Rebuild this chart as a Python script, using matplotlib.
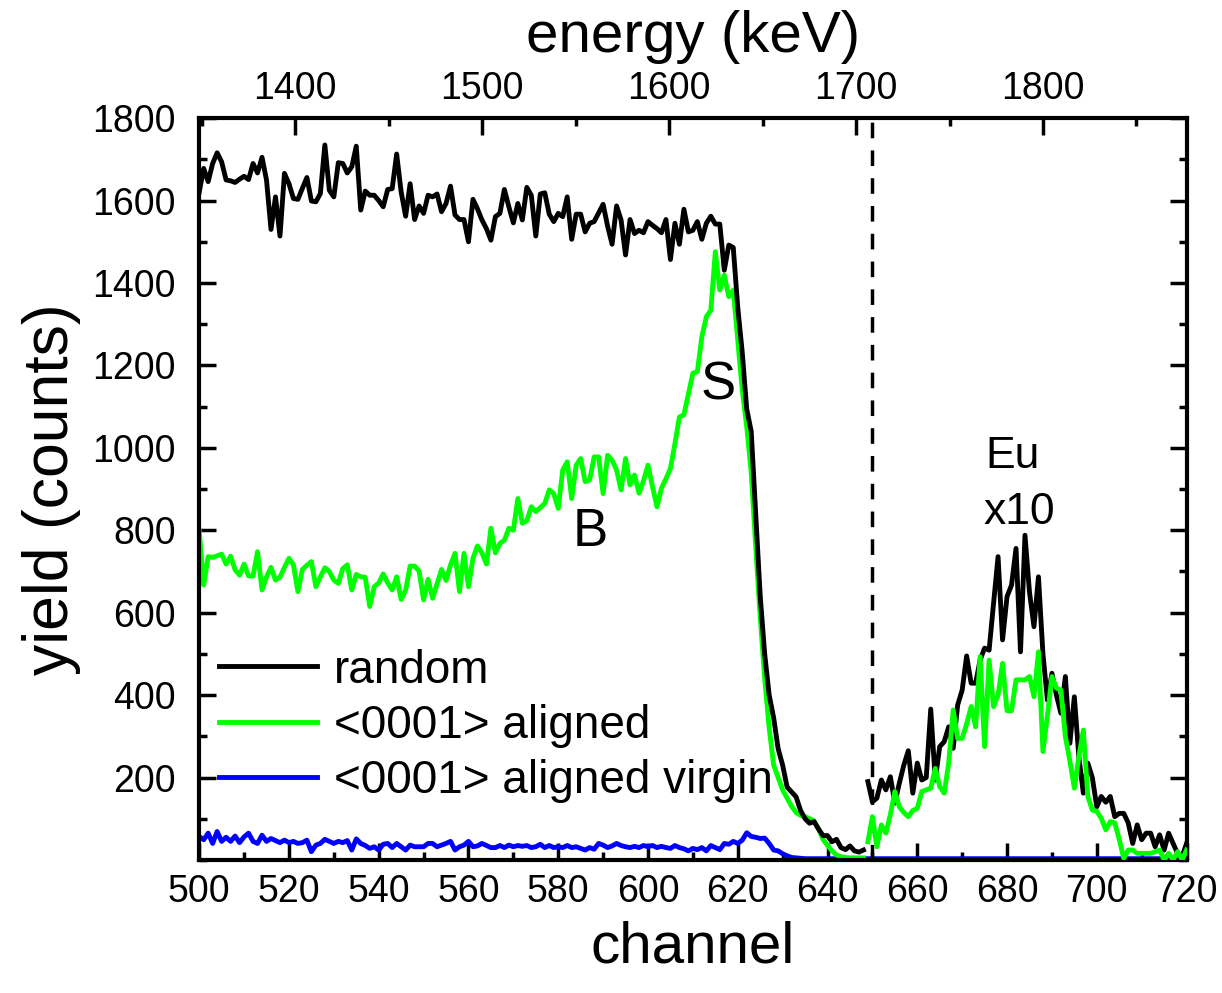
import numpy as np
from matplotlib import pyplot as plt
from matplotlib.ticker import MultipleLocator, FixedLocator

plt.rcParams["font.family"] = ["Liberation Sans", "DejaVu Sans"]

# main part of the spectrum, channels 500..648
ch_main = np.arange(500, 649)
random_main = [
    1620, 1678, 1646, 1690, 1716, 1694, 1650, 1648, 1644, 1652,
    1659, 1651, 1690, 1667, 1705, 1650, 1530, 1609, 1514, 1666,
    1641, 1605, 1603, 1630, 1656, 1599, 1597, 1617, 1735, 1625,
    1609, 1692, 1690, 1667, 1682, 1732, 1577, 1623, 1613, 1613,
    1600, 1585, 1627, 1629, 1713, 1621, 1562, 1641, 1554, 1587,
    1569, 1613, 1609, 1616, 1573, 1593, 1635, 1565, 1554, 1554,
    1500, 1603, 1580, 1553, 1532, 1504, 1561, 1569, 1627, 1585,
    1546, 1593, 1553, 1632, 1613, 1514, 1616, 1619, 1567, 1549,
    1569, 1561, 1609, 1506, 1567, 1567, 1524, 1545, 1549, 1570,
    1591, 1538, 1494, 1587, 1553, 1468, 1554, 1520, 1528, 1522,
    1549, 1540, 1532, 1522, 1554, 1457, 1545, 1494, 1579, 1524,
    1528, 1549, 1506, 1545, 1562, 1543, 1543, 1431, 1492, 1486,
    1341, 1232, 1094, 1040, 838, 641, 500, 400, 345, 270,
    230, 177, 165, 153, 120, 100, 89, 93, 75, 59,
    59, 44, 50, 30, 25, 34, 22, 19, 24,
]
aligned_main = [
    800, 667, 736, 734, 738, 742, 718, 737, 704, 691,
    718, 689, 689, 748, 655, 687, 710, 679, 686, 710,
    732, 716, 651, 705, 715, 724, 663, 687, 709, 700,
    679, 671, 707, 716, 655, 693, 687, 686, 615, 663,
    672, 694, 672, 655, 687, 632, 655, 713, 713, 701,
    631, 681, 635, 670, 705, 678, 716, 744, 651, 744,
    663, 732, 762, 745, 718, 805, 745, 768, 776, 805,
    800, 877, 817, 823, 857, 845, 855, 865, 898, 889,
    853, 946, 966, 877, 958, 974, 918, 922, 978, 978,
    889, 982, 970, 946, 898, 974, 910, 934, 890, 920,
    958, 906, 857, 902, 925, 950, 1010, 1075, 1080, 1130,
    1181, 1185, 1270, 1318, 1334, 1476, 1383, 1419, 1367, 1383,
    1262, 1140, 1051, 940, 760, 590, 440, 320, 230, 200,
    170, 150, 130, 115, 108, 105, 100, 95, 75, 50,
    35, 22, 12, 8, 6, 5, 5, 5, 5,
]

# Eu part (x10), channels 649..720
ch_eu = np.arange(649, 721)
random_eu = [
    190, 141, 150, 194, 170, 202, 138, 186, 230, 265,
    162, 235, 194, 200, 366, 194, 275, 287, 323, 271,
    376, 412, 495, 429, 429, 485, 514, 509, 623, 736,
    534, 639, 667, 756, 505, 788, 650, 566, 687, 500,
    388, 453, 400, 356, 445, 283, 396, 250, 162, 235,
    200, 129, 154, 140, 154, 105, 113, 113, 90, 40,
    85, 49, 65, 65, 32, 61, 24, 65, 40, 16,
    8, 40,
]
aligned_eu = [
    44, 105, 32, 85, 65, 110, 166, 129, 115, 105,
    120, 125, 166, 170, 174, 222, 178, 162, 235, 364,
    295, 295, 330, 372, 323, 493, 275, 485, 372, 400,
    477, 362, 362, 437, 437, 437, 445, 396, 505, 263,
    350, 445, 417, 412, 299, 240, 174, 250, 315, 154,
    121, 118, 101, 73, 93, 90, 50, 4, 24, 24,
    16, 16, 16, 16, 20, 24, 0, 16, 0, 20,
    0, 24,
]

# virgin aligned, channels 500..720
ch_virgin = np.arange(500, 721)
virgin = [
    57, 49, 65, 40, 69, 45, 55, 45, 58, 42,
    56, 65, 45, 40, 60, 45, 52, 47, 42, 48,
    42, 45, 40, 42, 48, 20, 36, 40, 50, 45,
    40, 45, 42, 47, 24, 51, 40, 35, 28, 32,
    24, 38, 40, 30, 40, 32, 24, 36, 32, 32,
    32, 40, 40, 32, 36, 40, 45, 24, 32, 36,
    45, 32, 34, 40, 35, 30, 30, 35, 30, 36,
    32, 35, 33, 35, 30, 32, 38, 30, 35, 30,
    32, 30, 35, 30, 32, 28, 24, 30, 26, 40,
    36, 30, 34, 40, 35, 32, 30, 33, 30, 35,
    32, 35, 30, 33, 30, 28, 35, 30, 27, 22,
    28, 25, 30, 22, 35, 30, 25, 40, 38, 45,
    40, 48, 66, 57, 55, 52, 53, 40, 24, 22,
    15, 10, 6, 5, 4, 3, 3, 3, 3, 3,
    3, 3, 3, 3, 3, 3, 3, 3, 3, 3,
    3, 3, 3, 3, 3, 3, 3, 3, 3, 3,
    3, 3, 3, 3, 3, 3, 3, 3, 3, 3,
    3, 3, 3, 3, 3, 3, 3, 3, 3, 3,
    3, 3, 3, 3, 3, 3, 3, 3, 3, 3,
    3, 3, 3, 3, 3, 3, 3, 3, 3, 3,
    3, 3, 3, 3, 3, 3, 3, 3, 3, 3,
    3, 3, 3, 3, 3, 3, 3, 3, 3, 3,
    3,
]

energy_ticks = [1400, 1500, 1600, 1700, 1800]

# energy calibration for the top axis
e0 = 1348.6
kev_per_ch = 2.401


def ch2e(x):
    return e0 + kev_per_ch * (np.asarray(x) - 500)


def e2ch(e):
    return 500 + (np.asarray(e) - e0) / kev_per_ch


fig = plt.figure(figsize=(12.22, 9.93), dpi=100)
ax = fig.add_axes([0.163, 0.134, 0.808, 0.747])

lw = 3.5
ax.plot(ch_virgin, virgin, color="#0000ff", lw=lw, label="<0001> aligned virgin", zorder=2)
ax.plot(ch_main, random_main, color="black", lw=lw, label="random", zorder=3)
ax.plot(ch_main, aligned_main, color="#00ff00", lw=lw, label="<0001> aligned", zorder=2.5)
ax.plot(ch_eu, random_eu, color="black", lw=lw, zorder=3)
ax.plot(ch_eu, aligned_eu, color="#00ff00", lw=lw, zorder=3.5)

ax.axvline(650, color="black", lw=2.5, ls=(0, (4.5, 3.5)))

ax.set_xlim(500, 720)
ax.set_ylim(0, 1800)
ax.xaxis.set_major_locator(MultipleLocator(20))
ax.xaxis.set_minor_locator(MultipleLocator(10))
ax.set_yticks([200, 400, 600, 800, 1000, 1200, 1400, 1600, 1800])
ax.yaxis.set_minor_locator(MultipleLocator(100))

ax.tick_params(which="both", direction="in", width=2.5, labelsize=27,
               left=True, right=True, bottom=True, top=False)
ax.tick_params(which="major", length=12)
ax.tick_params(which="minor", length=6)
ax.tick_params(axis="y", pad=17)
ax.tick_params(axis="x", pad=10)
for s in ax.spines.values():
    s.set_linewidth(3)

ax.set_xlabel("channel", fontsize=42, labelpad=8)
ax.set_ylabel("yield (counts)", fontsize=45, labelpad=8)

secax = ax.secondary_xaxis("top", functions=(ch2e, e2ch))
secax.xaxis.set_major_locator(FixedLocator(energy_ticks))
secax.xaxis.set_minor_locator(FixedLocator([1350, 1450, 1550, 1650, 1750, 1850]))
secax.tick_params(which="both", direction="in", width=2.5, labelsize=27, pad=8)
secax.tick_params(which="major", length=12)
secax.tick_params(which="minor", length=6)
secax.set_xlabel("energy (keV)", fontsize=42, labelpad=14)

ax.text(615.6, 1152, "S", fontsize=38, ha="center", va="center")
ax.text(587.1, 796, "B", fontsize=38, ha="center", va="center")
ax.text(681.3, 978, "Eu", fontsize=32, ha="center", va="center")
ax.text(682.8, 844, "x10", fontsize=32, ha="center", va="center")

handles, labels = ax.get_legend_handles_labels()
order = [1, 2, 0]
ax.legend([handles[i] for i in order], [labels[i] for i in order],
          loc="upper left", bbox_to_anchor=(0.02, 0.285), frameon=False,
          fontsize=33, handlelength=2.15, handletextpad=0.35,
          labelspacing=0.25, borderpad=0, borderaxespad=0)

fig.savefig("out.png", dpi=100)
